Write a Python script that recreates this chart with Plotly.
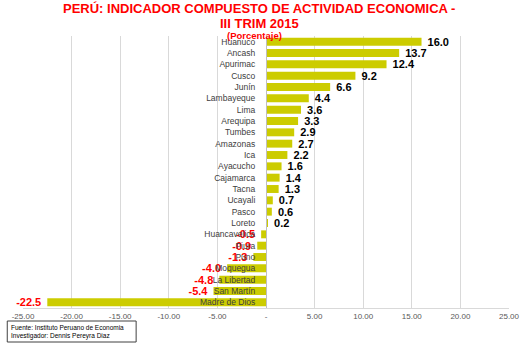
import plotly.graph_objects as go

regions = ["Huanuco", "Ancash", "Apurimac", "Cusco", "Junín", "Lambayeque", "Lima",
           "Arequipa", "Tumbes", "Amazonas", "Ica", "Ayacucho", "Cajamarca", "Tacna",
           "Ucayali", "Pasco", "Loreto", "Huancavelica", "Piura", "Puno", "Moquegua",
           "La Libertad", "San Martín", "Madre de Dios"]
values = [16.0, 13.7, 12.4, 9.2, 6.6, 4.4, 3.6, 3.3, 2.9, 2.7, 2.2, 1.6, 1.4, 1.3,
          0.7, 0.6, 0.2, -0.5, -0.9, -1.3, -4.0, -4.8, -5.4, -22.5]
x_ticks = [-25, -20, -15, -10, -5, 0, 5, 10, 15, 20, 25]
x_tick_text = ["-25.00", "-20.00", "-15.00", "-10.00", "-5.00", "-", "5.00",
               "10.00", "15.00", "20.00", "25.00"]

text_colors = ["#000000" if v >= 0 else "#FF0000" for v in values]
labels = [f"\u00a0{v:.1f}" if v >= 0 else f"{v:.1f}\u00a0" for v in values]

fig = go.Figure(go.Bar(
    x=values, y=regions, orientation="h",
    marker=dict(color="#CCCC00", line=dict(width=0)),
    text=labels,
    textposition="outside",
    constraintext="none",
    textfont=dict(family="Liberation Sans", size=11, color=text_colors, weight="bold"),
    cliponaxis=False,
))

fig.update_layout(
    width=532, height=350,
    margin=dict(l=17, r=21, t=36, b=42),
    paper_bgcolor="white", plot_bgcolor="white",
    showlegend=False,
    bargap=0.3,
    font=dict(family="Liberation Sans"),
    xaxis=dict(range=[-25, 25], tickvals=x_ticks, ticktext=x_tick_text,
               showgrid=True, gridcolor="#D9D9D9", gridwidth=1,
               zeroline=False, showline=True, linecolor="#D9D9D9",
               tickfont=dict(size=8, color="#595959"), ticks="", fixedrange=True),
    yaxis=dict(autorange="reversed", anchor="free", position=0.5,
               showline=True, linecolor="#BFBFBF", showgrid=False,
               tickfont=dict(size=8.5, color="#404040"), ticks="",
               ticklabelstandoff=9),
)

title_font = dict(size=13, color="#FF0000", family="Liberation Sans")
fig.add_annotation(text="<b>PERÚ: INDICADOR COMPUESTO DE ACTIVIDAD ECONOMICA -</b>",
                   xref="paper", yref="paper", x=(257 - 17) / 494, y=1,
                   xanchor="center", yanchor="middle", yshift=36 - 8,
                   showarrow=False, font=title_font)
fig.add_annotation(text="<b>III TRIM 2015</b>",
                   xref="paper", yref="paper", x=(257 - 17) / 494, y=1,
                   xanchor="center", yanchor="middle", yshift=36 - 23,
                   showarrow=False, font=title_font)
fig.add_annotation(text="<b>(Porcentaje)</b>",
                   xref="paper", yref="paper", x=(252 - 17) / 494, y=1,
                   xanchor="center", yanchor="middle", yshift=36 - 35.5,
                   showarrow=False, font=dict(size=9.5, color="#FF0000", family="Liberation Sans"))

fig.add_shape(type="rect", xref="paper", yref="paper",
              x0=(1 - 17) / 494, x1=(132 - 17) / 494,
              y0=-(342 - 308) / 272, y1=-(321 - 308) / 272,
              line=dict(color="#404040", width=1), fillcolor="white")
fig.add_annotation(text="Fuente: Instituto Peruano de Economia<br>Investigador: Dennis Pereyra Diaz",
                   xref="paper", yref="paper", x=(3 - 17) / 494, y=-(322 - 308) / 272,
                   xanchor="left", yanchor="top", align="left", showarrow=False,
                   font=dict(size=6.5, color="#000000", family="Liberation Sans"))

fig.write_html("out.html")
